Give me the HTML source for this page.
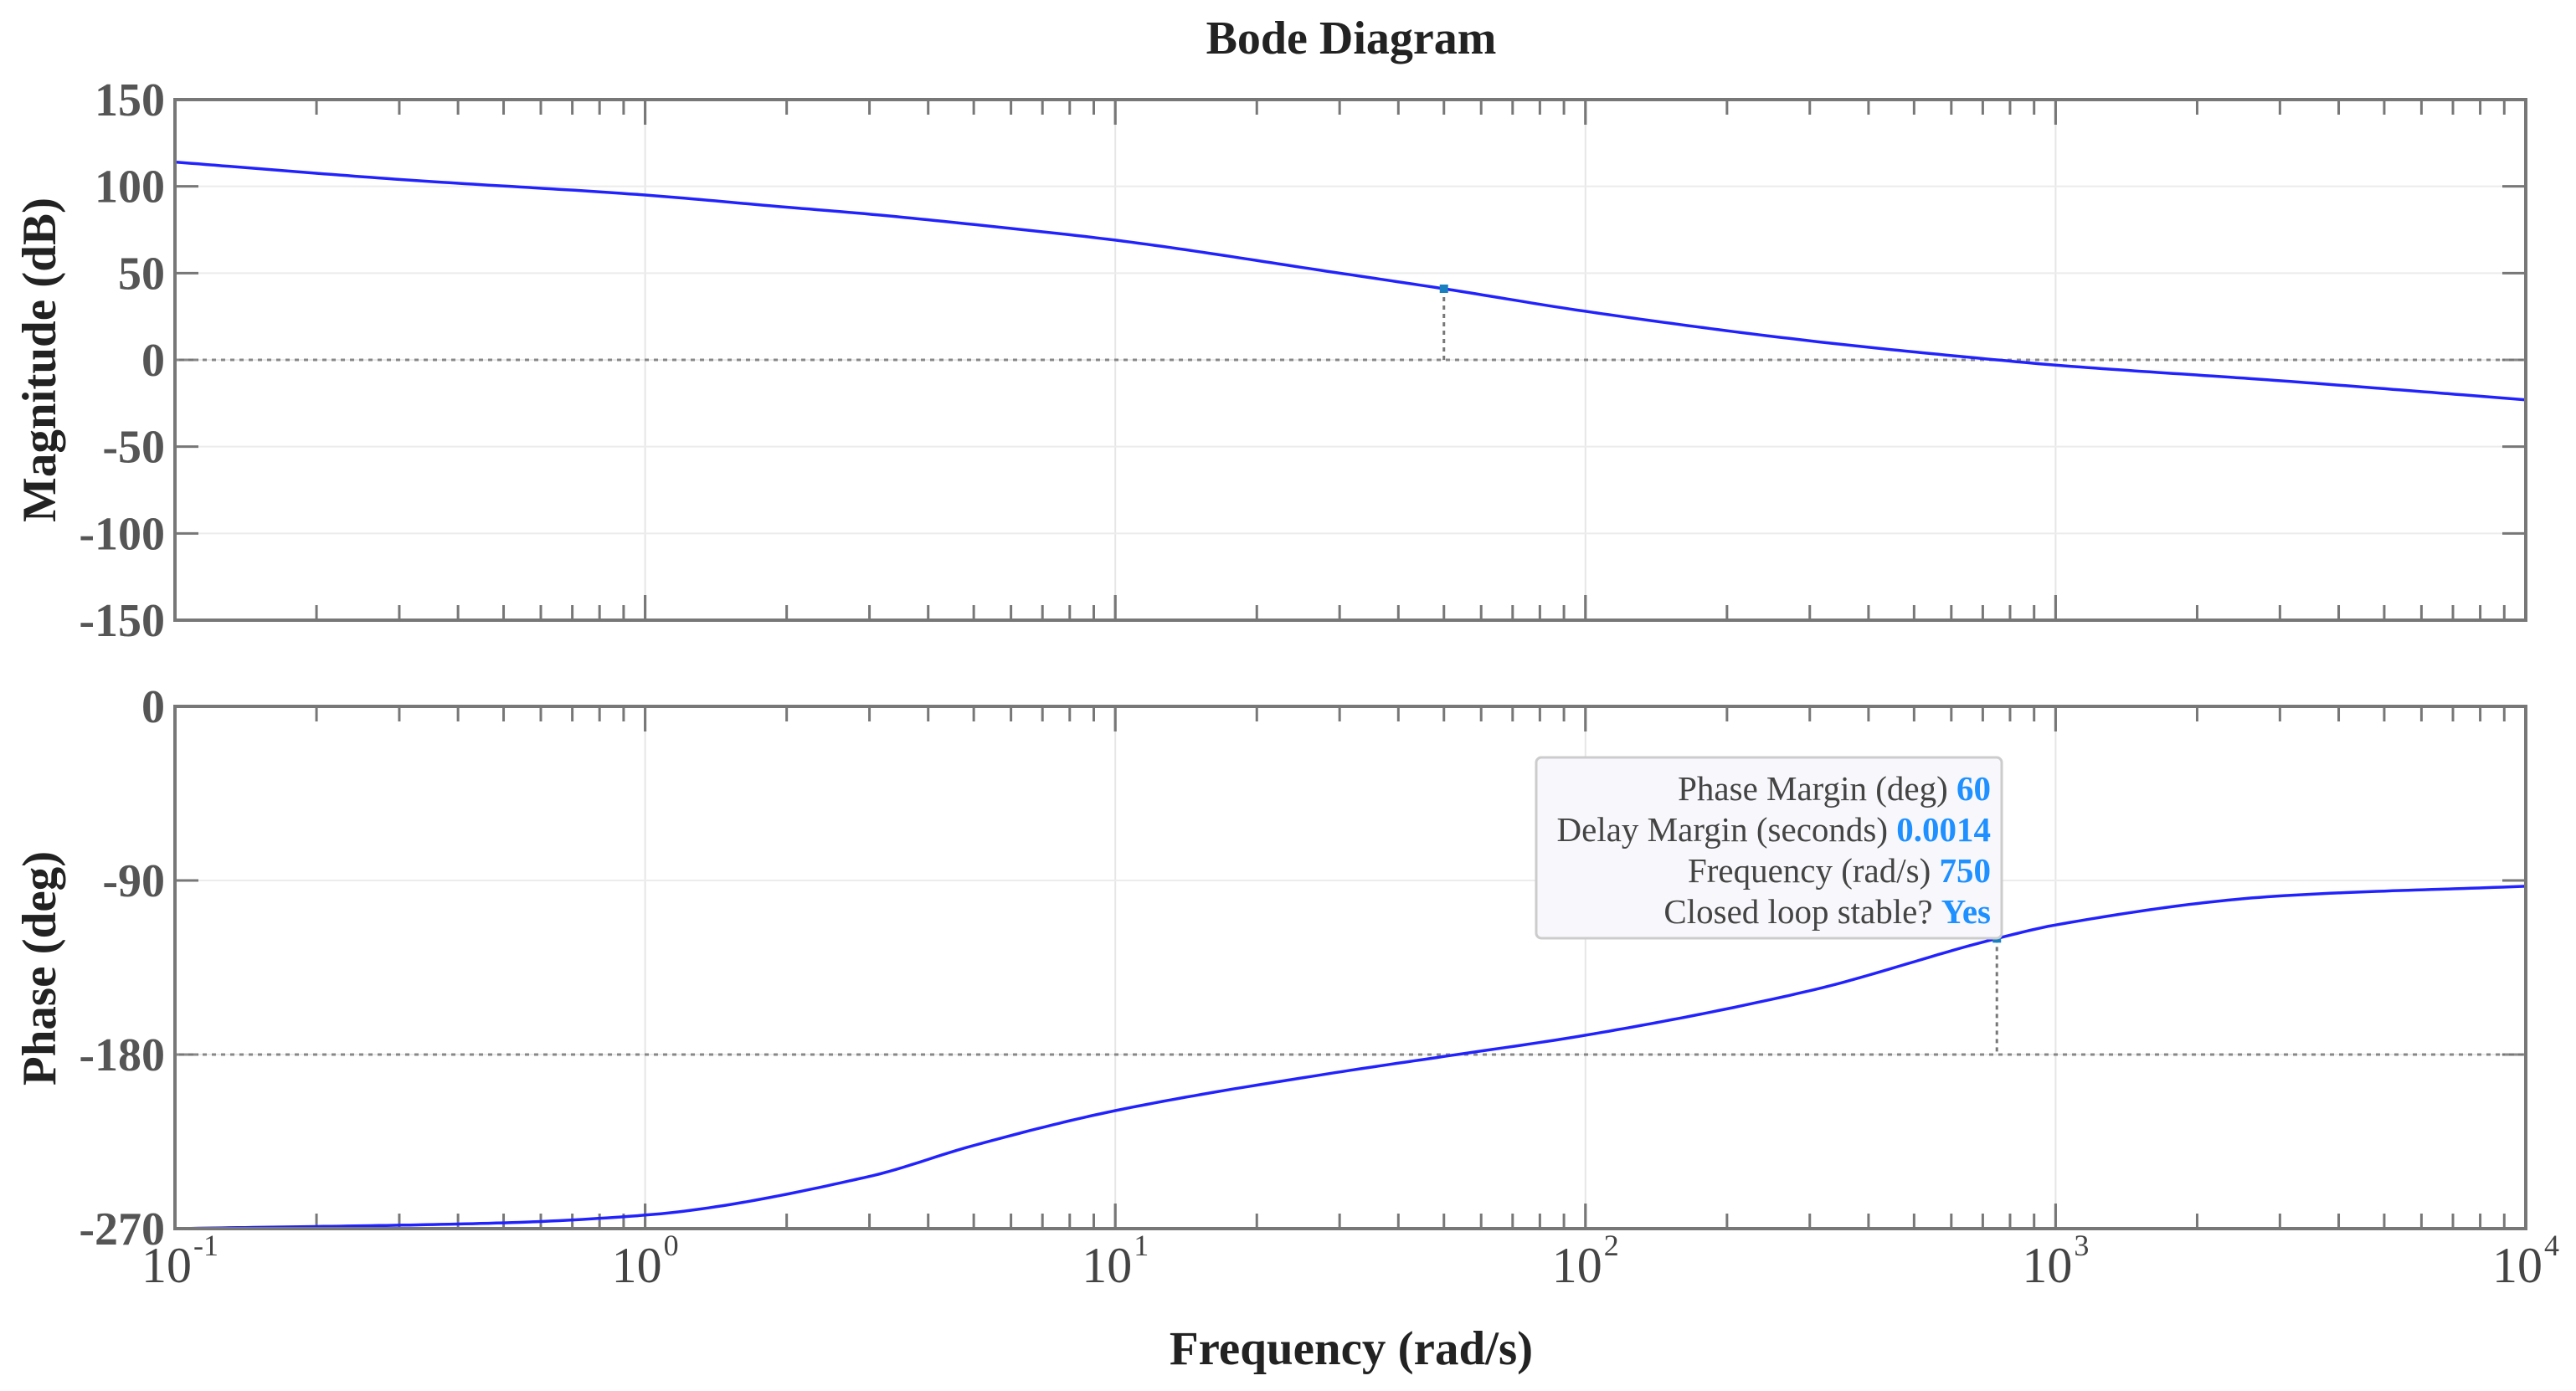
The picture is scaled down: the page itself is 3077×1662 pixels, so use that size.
<!DOCTYPE html>
<html><head><meta charset="utf-8"><style>
html,body{margin:0;padding:0;background:#fff;}
svg{display:block;font-family:"Liberation Serif",serif;}
</style></head><body>
<svg id="chart" width="3077" height="1662" viewBox="0 0 3077 1662" xmlns="http://www.w3.org/2000/svg">
<text x="1614" y="64" font-size="56" font-weight="bold" text-anchor="middle" fill="#222">Bode Diagram</text>
<g id="mag"></g>
<g id="phase"></g>
<g id="xlabels"></g>
<text x="1614" y="1630" font-size="57" font-weight="bold" text-anchor="middle" fill="#222">Frequency (rad/s)</text>
<text transform="translate(66,430) rotate(-90)" font-size="57" font-weight="bold" text-anchor="middle" fill="#222">Magnitude (dB)</text>
<text transform="translate(66,1157) rotate(-90)" font-size="57" font-weight="bold" text-anchor="middle" fill="#222">Phase (deg)</text>
<g>
<rect x="1835" y="905" width="556" height="216" rx="6" fill="#f8f8fc" stroke="#ccc" stroke-width="3"/>
<text x="2378" y="956" font-size="41" text-anchor="end" fill="#444">Phase Margin (deg) <tspan fill="#1e90ff" font-weight="bold">60</tspan></text>
<text x="2378" y="1005" font-size="41" text-anchor="end" fill="#444">Delay Margin (seconds) <tspan fill="#1e90ff" font-weight="bold">0.0014</tspan></text>
<text x="2378" y="1054" font-size="41" text-anchor="end" fill="#444">Frequency (rad/s) <tspan fill="#1e90ff" font-weight="bold">750</tspan></text>
<text x="2378" y="1103" font-size="41" text-anchor="end" fill="#444">Closed loop stable? <tspan fill="#1e90ff" font-weight="bold">Yes</tspan></text>
</g>
</svg>
<script>
const magFreqs = [0.1, 0.3, 1, 2, 3, 5, 10, 30, 50, 100, 300, 750, 1000, 3000, 10000];
const magDb = [114, 104, 95, 88, 84, 78, 69, 50, 41, 28, 11, 0, -3, -12, -23];
const phaseFreqs = [0.1, 0.5, 1, 3, 5, 10, 30, 50, 100, 300, 750, 1000, 3000, 10000];
const phaseDeg = [-270, -267, -263, -243, -227, -209, -189, -181, -170, -147, -120, -113, -98, -93];
const magTicks = [150, 100, 50, 0, -50, -100, -150];
const phaseTicks = [0, -90, -180, -270];
const decadeExps = [-1, 0, 1, 2, 3, 4];
const gainCrossFreq = 50, gainCrossMag = 41;
const phaseCrossFreq = 750, phaseCrossVal = -120;

const NS = "http://www.w3.org/2000/svg";
const L = 209, R = 3017;
const xs = f => L + (Math.log10(f) + 1) / 5 * (R - L);
const magT = 119, magB = 741, phT = 844, phB = 1468;
const yMag = v => magT + (150 - v) / 300 * (magB - magT);
const yPh = v => phT + (0 - v) / 270 * (phB - phT);

function mk(tag, attrs, parent) {
  const e = document.createElementNS(NS, tag);
  for (const k in attrs) e.setAttribute(k, attrs[k]);
  parent.appendChild(e); return e;
}
function interp(xa, ya) {
  const n = xa.length, d = [], m = [];
  for (let i = 0; i < n - 1; i++) d.push((ya[i + 1] - ya[i]) / (xa[i + 1] - xa[i]));
  m[0] = d[0]; m[n - 1] = d[n - 2];
  for (let i = 1; i < n - 1; i++) {
    if (d[i - 1] * d[i] <= 0) m[i] = 0;
    else { const w1 = 2 * (xa[i + 1] - xa[i]) + (xa[i] - xa[i - 1]), w2 = (xa[i + 1] - xa[i]) + 2 * (xa[i] - xa[i - 1]);
      m[i] = (w1 + w2) / (w1 / d[i - 1] + w2 / d[i]); }
  }
  return x => {
    let i = 0; while (i < n - 2 && x > xa[i + 1]) i++;
    const h = xa[i + 1] - xa[i], t = (x - xa[i]) / h, t2 = t * t, t3 = t2 * t;
    return (2*t3 - 3*t2 + 1) * ya[i] + (t3 - 2*t2 + t) * h * m[i] + (-2*t3 + 3*t2) * ya[i + 1] + (t3 - t2) * h * m[i + 1];
  };
}
function panel(g, top, bot, ticks, yf, freqs, vals, refVal, cf, cv, name) {
  decadeExps.forEach(e => {
    const x = xs(Math.pow(10, e));
    const gl = mk("line", {x1: x, x2: x, y1: top, y2: bot, stroke: "#e6e6e6", "stroke-width": 2}, g);
    
    
  });
  ticks.forEach(t => {
    const y = yf(t);
    const gl = mk("line", {x1: L, x2: R, y1: y, y2: y, stroke: "#ececec", "stroke-width": 2}, g);
    
    
    [[L, L + 28], [R, R - 28]].forEach(([a, b]) => {
      const tk = mk("line", {x1: a, x2: b, y1: y, y2: y, stroke: "#777", "stroke-width": 3}, g);
      
      
    });
    const tl = mk("text", {x: L - 12, y: y + 19, "font-size": 56, "font-weight": "bold", "text-anchor": "end", fill: "#555"}, g);
    tl.textContent = t;
    
    
  });
  for (let e = -1; e < 4; e++) for (let m = 1; m <= 10; m++) {
    const f = m * Math.pow(10, e), x = xs(f), len = (m === 1 || m === 10) ? 30 : 18;
    [[top, top + len], [bot, bot - len]].forEach(([a, b]) => {
      const tk = mk("line", {x1: x, x2: x, y1: a, y2: b, stroke: "#777", "stroke-width": 3}, g);
      
      
    });
  }
  const ref = mk("line", {x1: L, x2: R, y1: yf(refVal), y2: yf(refVal), stroke: "#888", "stroke-width": 3, "stroke-dasharray": "5,6"}, g);
  
  
  const vl = mk("line", {x1: xs(cf), x2: xs(cf), y1: yf(cv), y2: yf(refVal), stroke: "#777", "stroke-width": 3, "stroke-dasharray": "5,5"}, g);
  
  
  const lx = freqs.map(f => Math.log10(f));
  const fn = interp(lx, vals);
  let d = "";
  for (let k = 0; k <= 300; k++) {
    const lf = -1 + 5 * k / 300;
    d += (k ? "L" : "M") + xs(Math.pow(10, lf)).toFixed(1) + "," + yf(fn(lf)).toFixed(1);
  }
  const c = mk("path", {d: d, fill: "none", stroke: "#2222ff", "stroke-width": 3.5}, g);
  
  
  const mkr = mk("rect", {x: xs(cf) - 5, y: yf(cv) - 5, width: 10, height: 10, fill: "#1a7fbf"}, g);
  
  
  const fr = mk("rect", {x: L, y: top, width: R - L, height: bot - top, fill: "none", stroke: "#777", "stroke-width": 4}, g);
  
  
}
panel(document.getElementById("mag"), magT, magB, magTicks, yMag, magFreqs, magDb, 0, gainCrossFreq, gainCrossMag, "magnitude");
panel(document.getElementById("phase"), phT, phB, phaseTicks, yPh, phaseFreqs, phaseDeg, -180, phaseCrossFreq, phaseCrossVal, "phase");
const xl = document.getElementById("xlabels");
decadeExps.forEach(e => {
  const x = xs(Math.pow(10, e));
  const t = mk("text", {x: x - 10, y: 1532, "font-size": 60, "text-anchor": "middle", fill: "#444"}, xl);
  t.textContent = "10";
  
  
  const s = mk("text", {x: x + 22, y: 1500, "font-size": 36, "text-anchor": "start", fill: "#444"}, xl);
  s.textContent = e;
  
  
});
</script>
</body></html>
